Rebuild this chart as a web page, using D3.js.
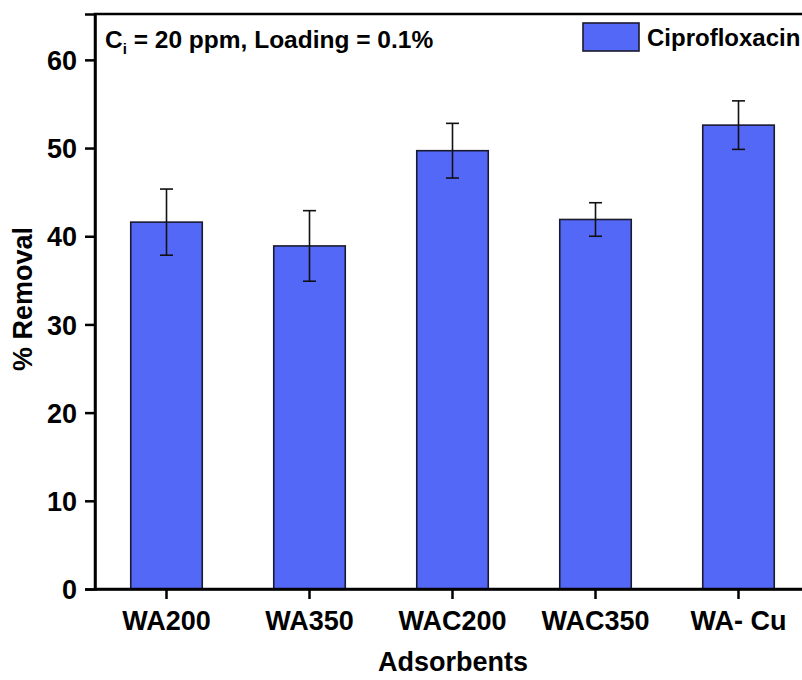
<!DOCTYPE html>
<html><head><meta charset="utf-8">
<script src="https://cdn.jsdelivr.net/npm/d3@7"></script>
<style>body{margin:0;background:#fff;overflow:hidden}svg{display:block}text{font-family:"Liberation Sans",Arial,sans-serif;font-weight:bold;fill:#000}</style>
</head><body>
<svg id="chart" width="802" height="680"></svg>
<script>
const categories = ["WA200", "WA350", "WAC200", "WAC350", "WA- Cu"];
const removal = [41.6, 38.9, 49.7, 41.9, 52.6];
const errors = [3.75, 4.0, 3.1, 1.9, 2.75];
const yTicks = [0, 10, 20, 30, 40, 50, 60];
const seriesName = "Ciprofloxacin";

const svg = d3.select("#chart");
const pLeft = 95, pTop = 14, pBottom = 589, pRight = 810;
const x = d3.scaleBand().domain(categories).range([pLeft, pRight]).paddingInner(0.5).paddingOuter(0.25);
const y = d3.scaleLinear().domain([0, 65.2]).range([pBottom, pTop]);

// bars
svg.append("g").selectAll("rect").data(categories).join("rect")
  .attr("x", d => x(d)).attr("width", x.bandwidth())
  .attr("y", (d, i) => y(removal[i])).attr("height", (d, i) => y(0) - y(removal[i]))
  .attr("fill", "#5468F8").attr("stroke", "#1a1a2e").attr("stroke-width", 1.6);

// error bars
const eb = svg.append("g").attr("stroke", "#111").attr("stroke-width", 1.6);
categories.forEach((c, i) => {
  const cx = x(c) + x.bandwidth() / 2;
  eb.append("line").attr("x1", cx).attr("x2", cx).attr("y1", y(removal[i] + errors[i])).attr("y2", y(removal[i] - errors[i]));
  [removal[i] + errors[i], removal[i] - errors[i]].forEach(v => {
    eb.append("line").attr("x1", cx - 6.5).attr("x2", cx + 6.5).attr("y1", y(v)).attr("y2", y(v));
  });
});

// frame
svg.append("rect").attr("x", pLeft).attr("y", pTop).attr("width", pRight - pLeft).attr("height", pBottom - pTop)
  .attr("fill", "none").attr("stroke", "#000").attr("stroke-width", 2.5);

// axes
const yAxis = svg.append("g").attr("transform", `translate(${pLeft},0)`)
  .call(d3.axisLeft(y).tickValues(yTicks).tickSize(10).tickPadding(8));
yAxis.select(".domain").attr("stroke-width", 2.5);
yAxis.selectAll(".tick line").attr("stroke-width", 2.5);
yAxis.selectAll(".tick text").style("font-size", "27px").attr("dy", "0.36em");

const xAxis = svg.append("g").attr("transform", `translate(0,${pBottom})`)
  .call(d3.axisBottom(x).tickSize(10).tickPadding(12).tickSizeOuter(0));
xAxis.select(".domain").attr("stroke-width", 2.5);
xAxis.selectAll(".tick line").attr("stroke-width", 2.5);
xAxis.selectAll(".tick text").style("font-size", "27px").attr("dy", "0.71em");

// axis titles
svg.append("text").attr("x", 453).attr("y", 671).attr("text-anchor", "middle").style("font-size", "27px").text("Adsorbents");
svg.append("text").attr("transform", "translate(32,299) rotate(-90)").attr("text-anchor", "middle").style("font-size", "27px").text("% Removal");

// annotation
const ann = svg.append("text").attr("x", 105).attr("y", 48).style("font-size", "24.5px");
ann.append("tspan").text("C");
ann.append("tspan").attr("dy", 6).style("font-size", "15px").text("i");
ann.append("tspan").attr("dy", -6).text(" = 20 ppm, Loading = 0.1%");

// legend
svg.append("rect").attr("x", 583).attr("y", 23).attr("width", 56).attr("height", 28)
  .attr("fill", "#5468F8").attr("stroke", "#1a1a2e").attr("stroke-width", 1.6);
svg.append("text").attr("x", 647).attr("y", 46).style("font-size", "24px").text(seriesName);
</script>
</body></html>
